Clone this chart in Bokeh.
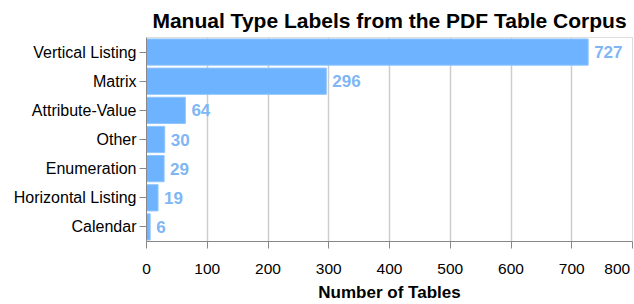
from bokeh.plotting import figure
from bokeh.models import FactorRange, Range1d, FixedTicker, ColumnDataSource
from bokeh.core.properties import value
from bokeh.embed import file_html
from bokeh.resources import INLINE

categories = ["Vertical Listing", "Matrix", "Attribute-Value", "Other",
              "Enumeration", "Horizontal Listing", "Calendar"]
counts = [727, 296, 64, 30, 29, 19, 6]
x_ticks = [0, 100, 200, 300, 400, 500, 600, 700, 800]

FONT = "Liberation Sans"

src = ColumnDataSource(dict(cat=categories, n=counts, lab=[str(c) for c in counts]))

p = figure(width=634, height=304, output_backend="svg", toolbar_location=None,
           y_range=FactorRange(*categories[::-1], range_padding=0),
           x_range=Range1d(x_ticks[0], x_ticks[-1]),
           min_border_left=146, min_border_right=2, min_border_top=0, min_border_bottom=55)

p.hbar(y="cat", right="n", left=0, height=0.9, source=src,
       fill_color="#6db3ff", line_color="#90c5ff", line_width=1)
p.text(x="n", y="cat", text="lab", source=src, x_offset=6,
       text_baseline="middle", text_align="left",
       text_font=value(FONT), text_font_style="bold", text_font_size="17px",
       text_color="#80b6f4")

p.title.text = "Manual Type Labels from the PDF Table Corpus"
p.title.align = "center"
p.title.text_font = FONT
p.title.text_font_size = "21px"
p.title.text_font_style = "bold"
p.title.text_color = "#000000"
p.title.standoff = 12

p.outline_line_color = "#dddddd"
p.outline_line_width = 1

xa = p.xaxis[0]
xa.ticker = FixedTicker(ticks=x_ticks)
# the last label sits left of its tick, as in the original (padding with a no-break space)
xa.major_label_overrides = {x_ticks[-1]: str(x_ticks[-1]) + "\u00a0"}
xa.axis_label = "Number of Tables"
xa.axis_label_text_font = FONT
xa.axis_label_text_font_size = "17px"
xa.axis_label_text_font_style = "bold"
xa.axis_label_text_color = "#000000"
xa.axis_label_text_line_height = 1.0
xa.axis_label_standoff = 3
xa.major_label_text_font = FONT
xa.major_label_text_font_size = "15.5px"
xa.major_label_text_color = "#000000"
xa.major_label_text_line_height = 1.0
xa.major_label_standoff = 11
xa.major_tick_in = 0
xa.major_tick_out = 7
xa.minor_tick_in = 0
xa.minor_tick_out = 0
xa.axis_line_color = "#888888"
xa.major_tick_line_color = "#888888"

ya = p.yaxis[0]
ya.major_label_text_font = FONT
ya.major_label_text_font_size = "16px"
ya.major_label_text_color = "#000000"
ya.major_label_standoff = 3
ya.major_tick_in = 0
ya.major_tick_out = 7
ya.axis_line_color = "#888888"
ya.major_tick_line_color = "#888888"

p.xgrid.grid_line_color = "#cccccc"
p.xgrid.grid_line_width = 1.5
p.ygrid.grid_line_color = None

open("out.html", "w").write(file_html(p, INLINE))
